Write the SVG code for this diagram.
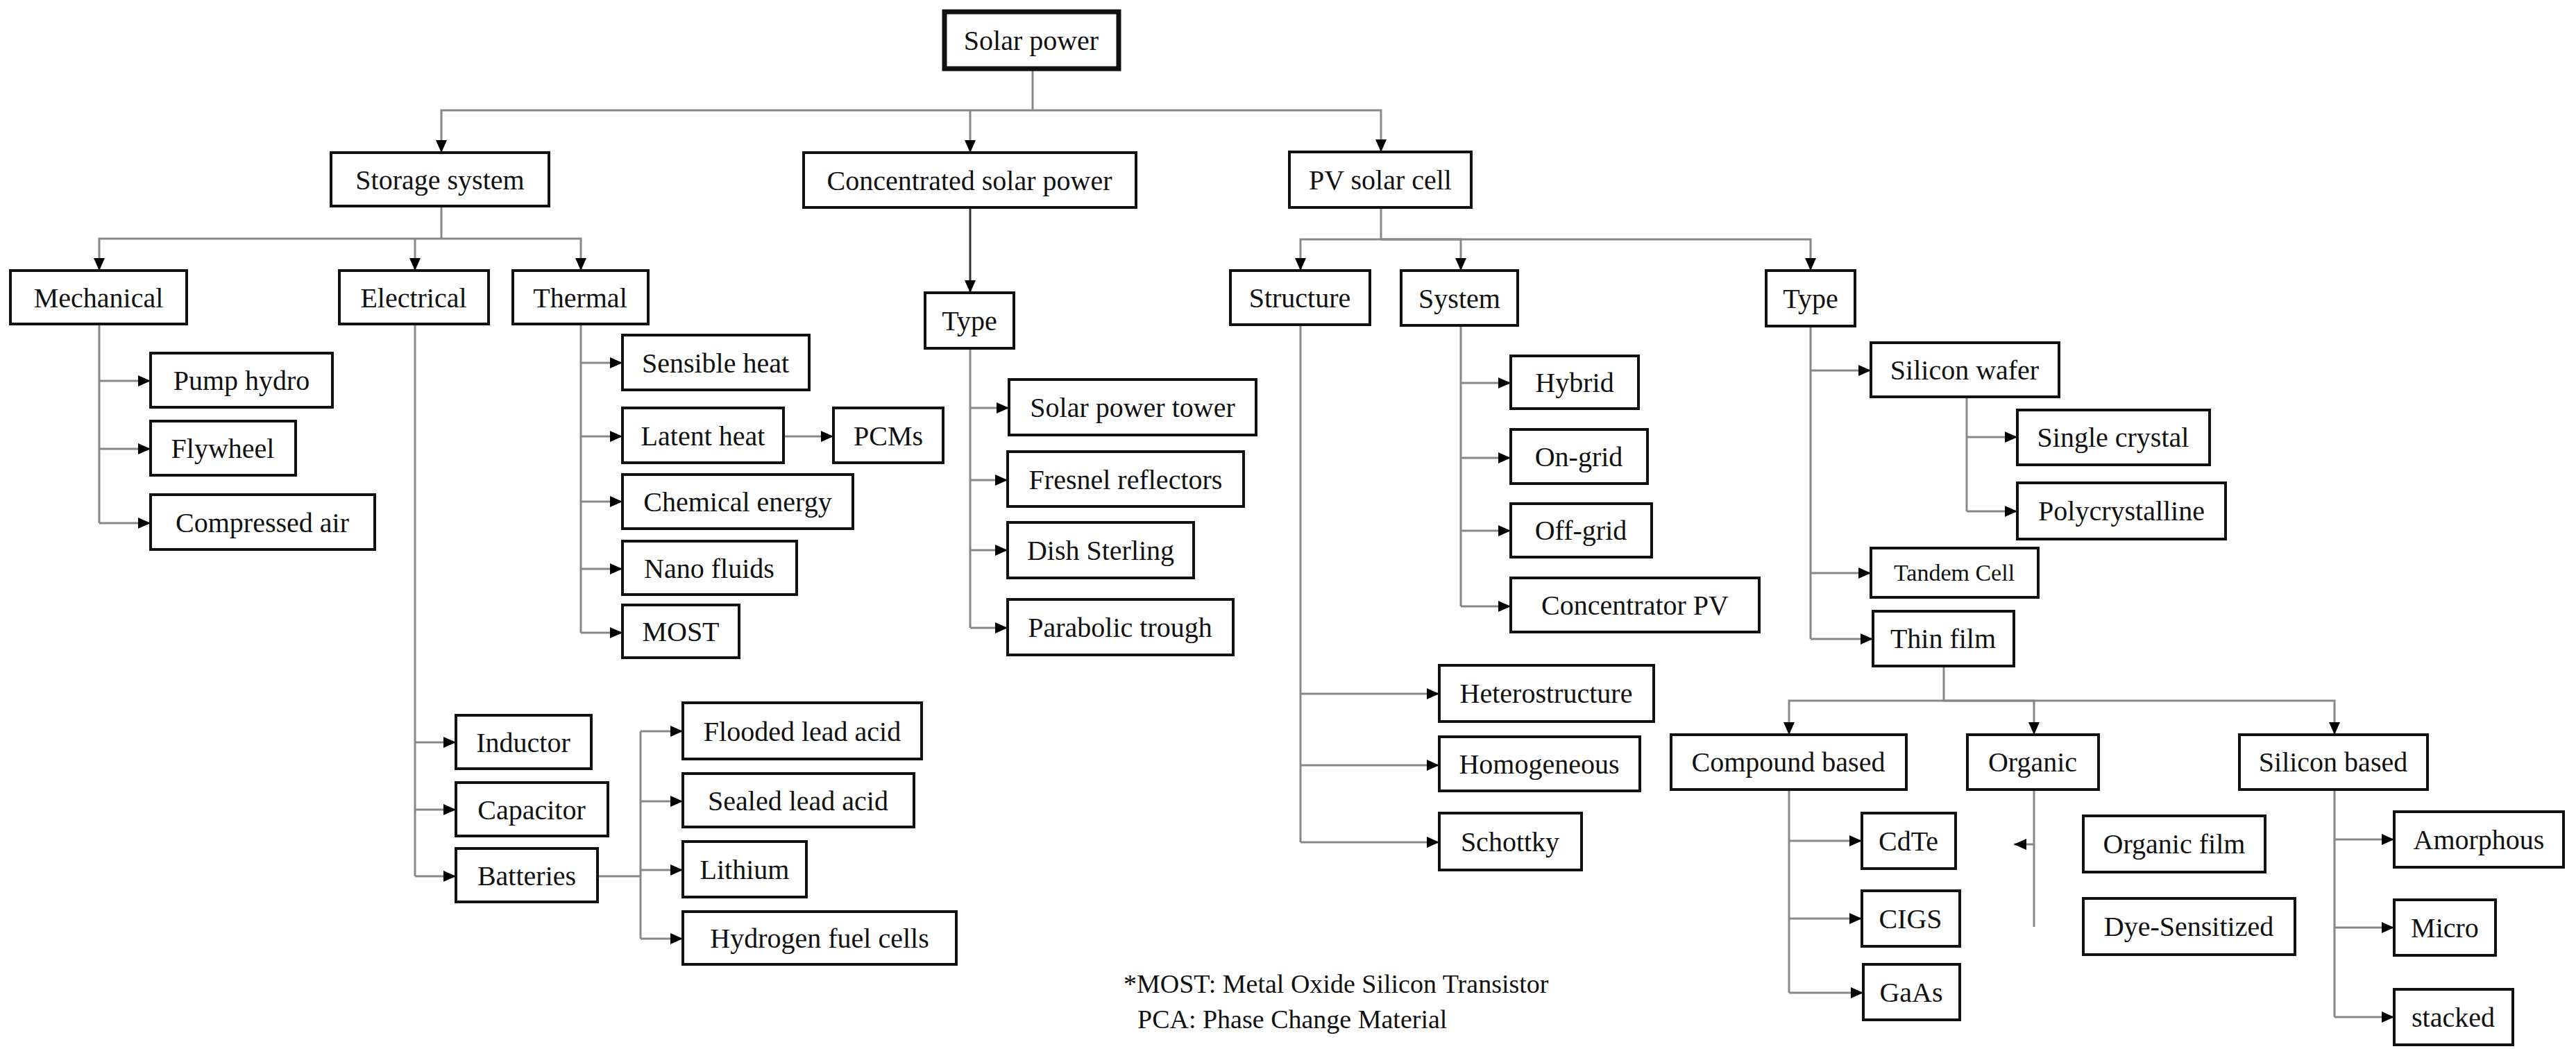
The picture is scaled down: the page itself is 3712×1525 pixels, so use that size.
<svg xmlns="http://www.w3.org/2000/svg" width="3712" height="1525" viewBox="0 0 3712 1525">
<style>
rect{fill:#fff;stroke:#111;stroke-width:4}
#n-solar rect{stroke-width:7}
text{font-family:"Liberation Serif","Times New Roman",serif;font-size:40px;fill:#111;text-anchor:middle;dominant-baseline:central}
.c path{fill:none;stroke:#888;stroke-width:3;marker-end:url(#a)}
.c path.n{marker-end:none}
.fn{text-anchor:start;dominant-baseline:auto;font-size:38px}
</style>
<defs><marker id="a" markerUnits="userSpaceOnUse" markerWidth="20" markerHeight="20" refX="18" refY="8" orient="auto"><path d="M0,0 L18,8 L0,16 Z" fill="#000"/></marker></defs>
<rect x="0" y="0" width="3712" height="1525" style="stroke:none"/>
<g class="c" id="connectors">
<path class="n" d="M1488,99 V159"/>
<path d="M1488,159 H636 V220"/><path d="M1398,159 V220"/><path d="M1488,159 H1990 V219"/>
<path class="n" d="M636,297 V344"/>
<path d="M598,344 H143 V390"/><path d="M598,344 V390"/><path d="M598,344 H837 V390"/>
<path d="M1398,299 V422" style="stroke:#333"/>
<path class="n" d="M143,467 V754"/>
<path d="M143,549 H217"/><path d="M143,647 H217"/><path d="M143,754 H217"/>
<path class="n" d="M598,467 V1263"/>
<path d="M598,1070 H657"/><path d="M598,1167 H657"/><path d="M598,1263 H657"/>
<path class="n" d="M861,1263 H923 M923,1054 V1353"/>
<path d="M923,1054 H984"/><path d="M923,1155 H984"/><path d="M923,1254 H984"/><path d="M923,1353 H984"/>
<path class="n" d="M837,467 V912"/>
<path d="M837,523 H897"/><path d="M837,629 H897"/><path d="M837,723 H897"/><path d="M837,820 H897"/><path d="M837,912 H897"/>
<path d="M1129,629 H1201"/>
<path class="n" d="M1398,502 V905"/>
<path d="M1398,588 H1454"/><path d="M1398,692 H1452"/><path d="M1398,793 H1452"/><path d="M1398,905 H1452"/>
<path class="n" d="M1990,299 V345"/>
<path d="M1990,345 H1874 V390"/><path d="M1990,345 H2105 V390"/><path d="M1990,345 H2609 V390"/>
<path class="n" d="M1874,468 V1214"/>
<path d="M1874,1000 H2074"/><path d="M1874,1103 H2074"/><path d="M1874,1214 H2074"/>
<path class="n" d="M2105,469 V874"/>
<path d="M2105,552 H2177"/><path d="M2105,660 H2177"/><path d="M2105,765 H2177"/><path d="M2105,874 H2177"/>
<path class="n" d="M2609,470 V921"/>
<path d="M2609,534 H2696"/><path d="M2609,826 H2696"/><path d="M2609,921 H2699"/>
<path class="n" d="M2834,572 V737"/>
<path d="M2834,630 H2907"/><path d="M2834,737 H2907"/>
<path class="n" d="M2801,960 V1010"/>
<path d="M2801,1010 H2578 V1059"/><path d="M2801,1010 H2931 V1059"/><path d="M2801,1010 H3364 V1059"/>
<path class="n" d="M2578,1138 V1431"/>
<path d="M2578,1212 H2683"/><path d="M2578,1324 H2683"/><path d="M2578,1431 H2685"/>
<path class="n" d="M2931,1138 V1336"/>
<path d="M2931,1217 H2902"/><path d="M2931,1336 H2902" style="display:none"/>
<path d="M2931,1217 H2902" style="display:none"/>
<path class="n" d="M3364,1138 V1466"/>
<path d="M3364,1210 H3450"/><path d="M3364,1337 H3450"/><path d="M3364,1466 H3450"/>
</g>
<g id="n-solar"><rect x="1361" y="17" width="251" height="82"/><text x="1486" y="58">Solar power</text></g>
<g id="n-storage"><rect x="477" y="220" width="314" height="77"/><text x="634" y="259">Storage system</text></g>
<g id="n-csp"><rect x="1158" y="220" width="479" height="79"/><text x="1397" y="260">Concentrated solar power</text></g>
<g id="n-pv"><rect x="1858" y="219" width="262" height="80"/><text x="1989" y="259">PV solar cell</text></g>
<g id="n-mech"><rect x="15" y="390" width="254" height="77"/><text x="142" y="429">Mechanical</text></g>
<g id="n-elec"><rect x="489" y="390" width="215" height="77"/><text x="596" y="429">Electrical</text></g>
<g id="n-therm"><rect x="739" y="390" width="195" height="77"/><text x="836" y="429">Thermal</text></g>
<g id="n-csptype"><rect x="1333" y="422" width="128" height="80"/><text x="1397" y="462">Type</text></g>
<g id="n-pump"><rect x="217" y="509" width="262" height="78"/><text x="348" y="548">Pump hydro</text></g>
<g id="n-fly"><rect x="217" y="607" width="209" height="78"/><text x="321" y="646">Flywheel</text></g>
<g id="n-comp"><rect x="217" y="713" width="323" height="79"/><text x="378" y="753">Compressed air</text></g>
<g id="n-sens"><rect x="897" y="483" width="269" height="79"/><text x="1031" y="523">Sensible heat</text></g>
<g id="n-latent"><rect x="897" y="588" width="232" height="79"/><text x="1013" y="628">Latent heat</text></g>
<g id="n-pcm"><rect x="1201" y="588" width="158" height="79"/><text x="1280" y="628">PCMs</text></g>
<g id="n-chem"><rect x="897" y="684" width="332" height="78"/><text x="1063" y="723">Chemical energy</text></g>
<g id="n-nano"><rect x="897" y="780" width="251" height="77"/><text x="1022" y="819">Nano fluids</text></g>
<g id="n-most"><rect x="897" y="872" width="168" height="76"/><text x="981" y="910">MOST</text></g>
<g id="n-tower"><rect x="1454" y="547" width="356" height="80"/><text x="1632" y="587">Solar power tower</text></g>
<g id="n-fresnel"><rect x="1452" y="651" width="340" height="79"/><text x="1622" y="691">Fresnel reflectors</text></g>
<g id="n-dish"><rect x="1452" y="753" width="268" height="80"/><text x="1586" y="793">Dish Sterling</text></g>
<g id="n-parab"><rect x="1452" y="864" width="325" height="80"/><text x="1614" y="904">Parabolic trough</text></g>
<g id="n-ind"><rect x="657" y="1031" width="195" height="77"/><text x="754" y="1070">Inductor</text></g>
<g id="n-cap"><rect x="657" y="1128" width="219" height="77"/><text x="766" y="1167">Capacitor</text></g>
<g id="n-bat"><rect x="657" y="1223" width="204" height="77"/><text x="759" y="1262">Batteries</text></g>
<g id="n-flood"><rect x="984" y="1013" width="344" height="81"/><text x="1156" y="1054">Flooded lead acid</text></g>
<g id="n-sealed"><rect x="984" y="1115" width="333" height="77"/><text x="1150" y="1154">Sealed lead acid</text></g>
<g id="n-lith"><rect x="984" y="1213" width="178" height="80"/><text x="1073" y="1253">Lithium</text></g>
<g id="n-hyd"><rect x="984" y="1314" width="394" height="76"/><text x="1181" y="1352">Hydrogen fuel cells</text></g>
<g id="n-struct"><rect x="1773" y="390" width="201" height="78"/><text x="1873" y="429">Structure</text></g>
<g id="n-system"><rect x="2019" y="390" width="168" height="79"/><text x="2103" y="430">System</text></g>
<g id="n-pvtype"><rect x="2545" y="390" width="128" height="80"/><text x="2609" y="430">Type</text></g>
<g id="n-hybrid"><rect x="2177" y="513" width="184" height="76"/><text x="2269" y="551">Hybrid</text></g>
<g id="n-ongrid"><rect x="2177" y="619" width="197" height="78"/><text x="2275" y="658">On-grid</text></g>
<g id="n-offgrid"><rect x="2177" y="726" width="203" height="77"/><text x="2278" y="764">Off-grid</text></g>
<g id="n-cpv"><rect x="2177" y="833" width="358" height="78"/><text x="2356" y="872">Concentrator  PV</text></g>
<g id="n-hetero"><rect x="2074" y="959" width="309" height="81"/><text x="2228" y="999">Heterostructure</text></g>
<g id="n-homo"><rect x="2074" y="1062" width="289" height="78"/><text x="2218" y="1101">Homogeneous</text></g>
<g id="n-schottky"><rect x="2074" y="1172" width="205" height="82"/><text x="2176" y="1213">Schottky</text></g>
<g id="n-wafer"><rect x="2696" y="494" width="271" height="78"/><text x="2831" y="533">Silicon wafer</text></g>
<g id="n-single"><rect x="2907" y="591" width="277" height="79"/><text x="3045" y="630">Single crystal</text></g>
<g id="n-poly"><rect x="2907" y="696" width="300" height="81"/><text x="3057" y="736">Polycrystalline</text></g>
<g id="n-tandem"><rect x="2696" y="790" width="241" height="71"/><text x="2816" y="825" style="font-size:34px">Tandem Cell</text></g>
<g id="n-thin"><rect x="2699" y="881" width="203" height="79"/><text x="2800" y="920">Thin film</text></g>
<g id="n-compound"><rect x="2408" y="1059" width="339" height="79"/><text x="2577" y="1098">Compound  based</text></g>
<g id="n-organic"><rect x="2835" y="1059" width="189" height="79"/><text x="2929" y="1098">Organic</text></g>
<g id="n-sibased"><rect x="3227" y="1059" width="271" height="79"/><text x="3362" y="1098">Silicon based</text></g>
<g id="n-cdte"><rect x="2683" y="1172" width="135" height="80"/><text x="2750" y="1212">CdTe</text></g>
<g id="n-cigs"><rect x="2683" y="1284" width="141" height="80"/><text x="2753" y="1324">CIGS</text></g>
<g id="n-gaas"><rect x="2685" y="1390" width="139" height="80"/><text x="2754" y="1430">GaAs</text></g>
<g id="n-orgfilm"><rect x="3002" y="1176" width="262" height="81"/><text x="3133" y="1216">Organic  film</text></g>
<g id="n-dye"><rect x="3002" y="1295" width="305" height="81"/><text x="3154" y="1335">Dye-Sensitized</text></g>
<g id="n-amor"><rect x="3450" y="1170" width="244" height="80"/><text x="3572" y="1210">Amorphous</text></g>
<g id="n-micro"><rect x="3450" y="1297" width="146" height="80"/><text x="3523" y="1337">Micro</text></g>
<g id="n-stacked"><rect x="3450" y="1426" width="171" height="80"/><text x="3535" y="1466">stacked</text></g>
<text class="fn" x="1619" y="1431">*MOST: Metal Oxide Silicon Transistor</text>
<text class="fn" x="1639" y="1482">PCA: Phase Change Material</text>
</svg>
